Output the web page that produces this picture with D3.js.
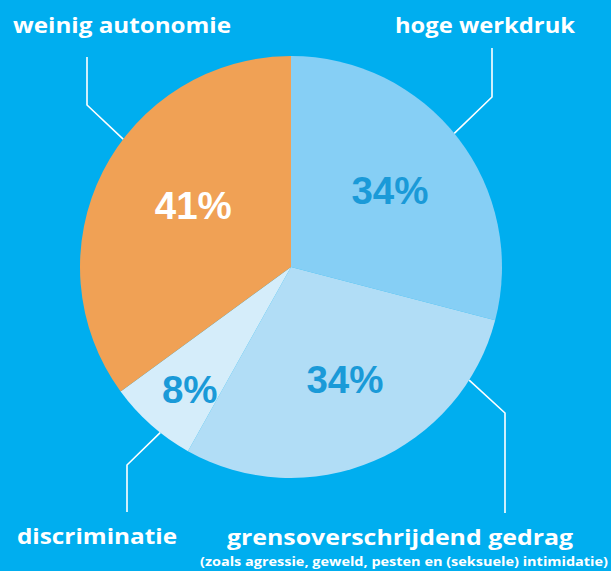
<!DOCTYPE html>
<html>
<head>
<meta charset="utf-8" />
<script src="https://d3js.org/d3.v7.min.js"></script>
<style>
  body { margin: 0; background: #00aeef; }
  svg { display: block; }
  .lbl { font-family: "Open Sans", sans-serif; font-weight: 700; fill: #fff; }
  .pct { font-family: "Liberation Sans", Arial, sans-serif; font-weight: bold; }
</style>
</head>
<body>
<svg id="chart" width="611" height="571"></svg>
<script>
// data, clockwise from 12 o'clock
const categories = ["hoge werkdruk", "grensoverschrijdend gedrag", "discriminatie", "weinig autonomie"];
const values = [34, 34, 8, 41];
const pctLabels = ["34%", "34%", "8%", "41%"];
const subNote = "(zoals agressie, geweld, pesten en (seksuele) intimidatie)";

const colors = ["#86cff5", "#b1ddf6", "#d5edfa", "#f0a155"];
const pctColors = ["#1a9ad8", "#1a9ad8", "#1a9ad8", "#ffffff"];

const W = 611, H = 571;
const cx = 291, cy = 267, r = 211;

const svg = d3.select("#chart");
svg.append("rect").attr("width", W).attr("height", H).attr("fill", "#00aeef");

const pie = d3.pie().sort(null).value(d => d);
const arcs = pie(values);
const arc = d3.arc().innerRadius(0).outerRadius(r);

const g = svg.append("g").attr("transform", `translate(${cx},${cy})`);

g.selectAll("path.slice")
  .data(arcs)
  .enter()
  .append("path")
  .attr("class", "slice")
  .attr("d", arc)
  .attr("fill", (d, i) => colors[i]);

// percentage labels: radius + small angle nudge (degrees) per slice
const pctPlace = [
  { rad: 125, nudge: 0 },
  { rad: 125, nudge: -2.5 },
  { rad: 159, nudge: -2 },
  { rad: 115.5, nudge: 5.3 }
];
g.selectAll("text.pct")
  .data(arcs)
  .enter()
  .append("text")
  .attr("class", "pct")
  .attr("text-anchor", "middle")
  .attr("font-size", 38.5)
  .attr("fill", (d, i) => pctColors[i])
  .attr("transform", (d, i) => {
    const p = pctPlace[i];
    const t = (d.startAngle + d.endAngle) / 2 + p.nudge * Math.PI / 180;
    const x = Math.sin(t) * p.rad, y = -Math.cos(t) * p.rad;
    return `translate(${x},${y + 13.5})`;
  })
  .text((d, i) => pctLabels[i]);

// leader lines: angle on the rim, then elbow, then vertical to the label
const leaders = [
  { a: 50.7, elbow: [201, -170], end: -219 },
  { a: 122.4, elbow: [214, 146], end: 246 },
  { a: 218.3, elbow: [-164, 198], end: 245 },
  { a: 307.3, elbow: [-204, -162], end: -210 }
];
leaders.forEach(l => {
  const t = l.a * Math.PI / 180;
  const p0 = [Math.sin(t) * r, -Math.cos(t) * r];
  const line = d3.line();
  g.append("path")
    .attr("d", line([p0, l.elbow, [l.elbow[0], l.end]]))
    .attr("fill", "none")
    .attr("stroke", "#fff")
    .attr("stroke-width", 1.6);
});

// category labels (left x, baseline, width)
const labelPos = [
  { x: 395, y: 33, w: 180 },
  { x: 227, y: 545, w: 346 },
  { x: 17, y: 544, w: 160 },
  { x: 13, y: 33, w: 218 }
];
categories.forEach((c, i) => {
  svg.append("text")
    .attr("class", "lbl")
    .attr("x", labelPos[i].x)
    .attr("y", labelPos[i].y)
    .attr("font-size", 21.5)
    .attr("textLength", labelPos[i].w)
    .attr("lengthAdjust", "spacingAndGlyphs")
    .text(c);
});
svg.append("text")
  .attr("class", "lbl")
  .attr("x", 200)
  .attr("y", 566)
  .attr("font-size", 12.5)
  .attr("textLength", 408)
  .attr("lengthAdjust", "spacingAndGlyphs")
  .text(subNote);
</script>
</body>
</html>
